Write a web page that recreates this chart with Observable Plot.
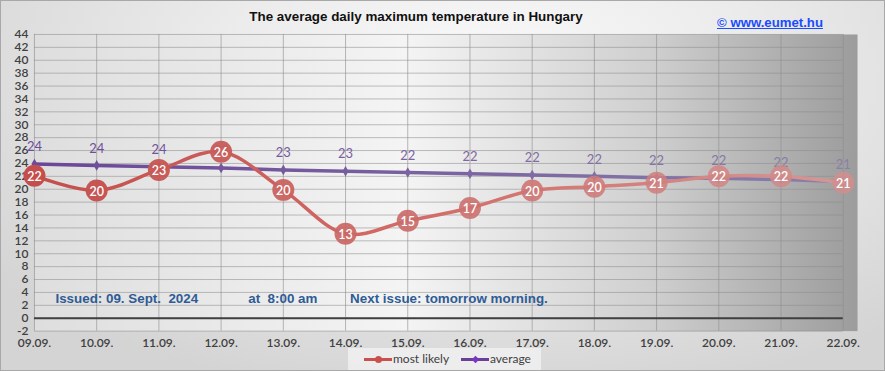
<!DOCTYPE html>
<html>
<head>
<meta charset="utf-8">
<script src="https://cdn.jsdelivr.net/npm/d3@7"></script>
<script src="https://cdn.jsdelivr.net/npm/@observablehq/plot@0.6"></script>
<style>
  html, body { margin: 0; padding: 0; }
  body { width: 885px; height: 371px; overflow: hidden; }
  #wrap {
    position: relative; width: 883px; height: 369px;
    border: 1px solid #a8a8a8;
    background: radial-gradient(ellipse 70% 90% at 55% 20%, #fafafa 0%, #ebebeb 45%, #d4d4d4 100%);
    font-family: "Liberation Sans", Arial, sans-serif;
  }
  #chart { position: absolute; left: -1px; top: -1px; }
  #title { position: absolute; left: 0; width: 830px; text-align: center; top: 8px;
    font: bold 13.4px "Liberation Sans", Arial, sans-serif; color: #111; }
  #link { position: absolute; left: 716px; top: 14px; font: bold 13.2px "Liberation Sans", Arial, sans-serif;
    color: #1a4cff; text-decoration: underline; }
  #legend { position: absolute; left: 347px; top: 347px; width: 193px; height: 22px;
    background: rgba(240,240,240,0.85); font: 12px Lato, "Open Sans", sans-serif; color: #404040; }
  .sw { position: absolute; top: 10px; width: 28px; height: 3px; }
  .dot { position: absolute; top: -2.5px; left: 11px; width: 7px; height: 7px; border-radius: 50%; }
  .lt { position: absolute; top: 3px; }
</style>
</head>
<body>
<div id="wrap">
  <div id="chart"></div>
  <div id="title"></div>
  <div id="link"></div>
  <div id="legend"></div>
</div>
<script>
const dates = ["09.09.","10.09.","11.09.","12.09.","13.09.","14.09.","15.09.","16.09.","17.09.","18.09.","19.09.","20.09.","21.09.","22.09."];
const mostLikely = [22.1, 19.8, 23.0, 25.8, 19.9, 13.1, 15.1, 17.1, 19.8, 20.4, 21.0, 22.0, 22.0, 21.0];
const mostLikelyLabels = ["22","20","23","26","20","13","15","17","20","20","21","22","22","21"];
const average = [23.9, 23.7, 23.5, 23.3, 23.0, 22.8, 22.6, 22.4, 22.2, 22.0, 21.8, 21.7, 21.5, 21.2];
const averageLabels = ["24","24","24","23","23","23","22","22","22","22","22","22","22","21"];
const yTicks = d3.range(-2, 45, 2);
const titleText = "The average daily maximum temperature in Hungary";
const linkText = "© www.eumet.hu";
const issuedText = "Issued: 09. Sept.  2024";
const atText = "at  8:00 am";
const nextText = "Next issue: tomorrow morning.";
const seriesNames = ["most likely", "average"];

document.getElementById("title").textContent = titleText;
document.getElementById("link").textContent = linkText;

const n = dates.length;
const idx = d3.range(n);
const ml = idx.map(i => ({i, v: mostLikely[i], label: mostLikelyLabels[i]}));
const av = idx.map(i => ({i, v: average[i], label: averageLabels[i]}));

const redCol = d3.interpolateRgb("#c44e4b", "#d48e8c");
const redOp = d3.scaleLinear([0, n - 1], [1, 0.82]);
const purCol = d3.interpolateRgb("#6e4a9a", "#8b7fa8");
const noteFont = "'Liberation Sans', Arial, sans-serif";

const chart = Plot.plot({
  width: 885,
  height: 371,
  marginLeft: 34,
  marginRight: 27,
  marginTop: 34,
  marginBottom: 40,
  style: {background: "transparent", fontFamily: "Lato, 'Open Sans', sans-serif", fontSize: "12px", color: "#404040"},
  x: {domain: [0, n - 1], range: [34, 843.7], axis: null},
  y: {domain: [-2, 44], axis: null},
  marks: [
    Plot.frame({fill: "url(#plotbg)", stroke: "none"}),
    Plot.ruleY(yTicks, {x1: 0, x2: n - 1, stroke: "#8c8c8c", strokeOpacity: 0.55, strokeWidth: 1}),
    Plot.ruleX(idx, {x: d => d, y1: -2, y2: 44, stroke: "#8c8c8c", strokeOpacity: 0.6, strokeWidth: 1}),
    Plot.ruleY([0], {x1: 0, x2: n - 1, stroke: "#404040", strokeWidth: 2}),
    Plot.text(yTicks, {x: 0, y: d => d, text: d => String(d), textAnchor: "end", dx: -6, fill: "#404040", fontSize: 12, fontWeight: 600}),
    Plot.text(idx, {x: d => d, y: -2, text: d => dates[d], dy: 12, fill: "#404040", fontSize: 12, fontWeight: 600}),
    Plot.text([issuedText], {frameAnchor: "bottom-left", dx: 21, dy: -28, text: d => d, fill: "#2e5b96", fontWeight: "bold", fontSize: 13.4, fontFamily: noteFont}),
    Plot.text([atText], {frameAnchor: "bottom-left", dx: 214, dy: -28, text: d => d, fill: "#2e5b96", fontWeight: "bold", fontSize: 13.4, fontFamily: noteFont}),
    Plot.text([nextText], {frameAnchor: "bottom-left", dx: 316, dy: -28, text: d => d, fill: "#2e5b96", fontWeight: "bold", fontSize: 13.4, fontFamily: noteFont}),
    Plot.line(av, {x: "i", y: "v", stroke: "url(#purgrad)", strokeWidth: 3.5}),
    Plot.dot(av, {x: "i", y: "v", symbol: "diamond", r: 3.2, fill: d => purCol(d.i / (n - 1)), stroke: "none"}),
    Plot.text(av, {x: "i", y: "v", text: "label", dy: -17, fill: d => purCol(d.i / (n - 1)), fontSize: 13}),
    Plot.line(ml, {x: "i", y: "v", curve: "catmull-rom", stroke: "url(#redgrad)", strokeWidth: 3.5}),
    Plot.dot(ml, {x: "i", y: "v", r: 11, fill: d => redCol(d.i / (n - 1)), fillOpacity: d => redOp(d.i), stroke: "none"}),
    Plot.text(ml, {x: "i", y: "v", text: "label", fill: "white", fontSize: 12.5, fontWeight: 600, dy: 1})
  ]
});

// gradients
const ns = "http://www.w3.org/2000/svg";
const defs = document.createElementNS(ns, "defs");
defs.innerHTML = `
  <linearGradient id="plotbg" x1="0" y1="0" x2="1" y2="0">
    <stop offset="0" stop-color="#dedede"/>
    <stop offset="0.45" stop-color="#f4f4f4"/>
    <stop offset="0.75" stop-color="#cfcfcf"/>
    <stop offset="1" stop-color="#9c9c9c"/>
  </linearGradient>
  <linearGradient id="redgrad" gradientUnits="userSpaceOnUse" x1="34" y1="0" x2="844" y2="0">
    <stop offset="0" stop-color="#c44e4b"/>
    <stop offset="0.5" stop-color="#d36d69"/>
    <stop offset="1" stop-color="#d49794"/>
  </linearGradient>
  <linearGradient id="purgrad" gradientUnits="userSpaceOnUse" x1="34" y1="0" x2="844" y2="0">
    <stop offset="0" stop-color="#6a4698"/>
    <stop offset="1" stop-color="#8a80a8"/>
  </linearGradient>`;
chart.insertBefore(defs, chart.firstChild);
document.getElementById("chart").appendChild(chart);

// legend
const legend = document.getElementById("legend");
const items = [
  {name: seriesNames[0], color: "#c9504d", left: 16},
  {name: seriesNames[1], color: "#6a3f98", left: 113}
];
for (const it of items) {
  const sw = document.createElement("div");
  sw.className = "sw"; sw.style.left = it.left + "px"; sw.style.background = it.color;
  const dot = document.createElement("div");
  dot.className = "dot"; dot.style.background = it.color;
  if (it.name === "average") { dot.style.borderRadius = "0"; dot.style.transform = "rotate(45deg) scale(0.75)"; dot.style.background = "#7a36c0"; }
  sw.appendChild(dot);
  legend.appendChild(sw);
  const t = document.createElement("div");
  t.className = "lt"; t.style.left = (it.left + 29) + "px"; t.textContent = it.name;
  legend.appendChild(t);
}
</script>
</body>
</html>
